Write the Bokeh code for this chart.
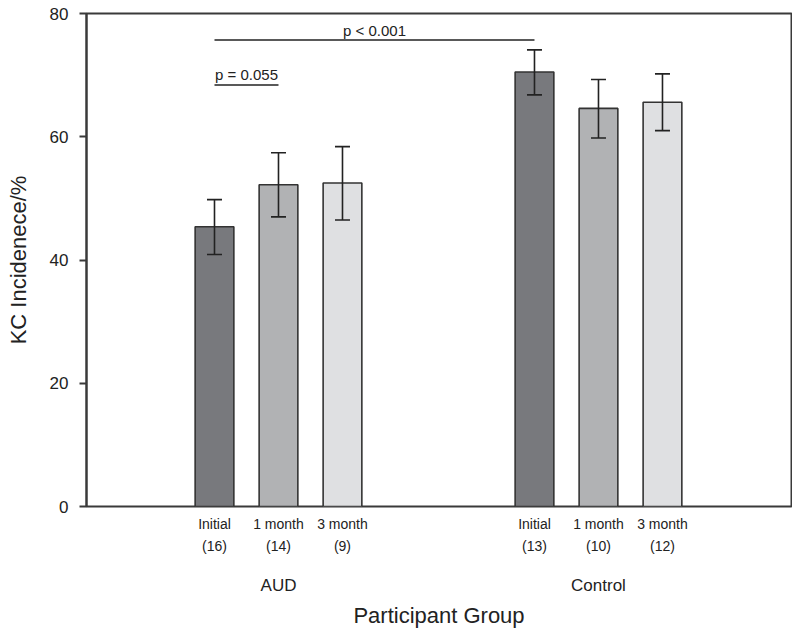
from bokeh.plotting import figure
from bokeh.models import Range1d, FixedTicker, LinearAxis, ColumnDataSource, Whisker, TeeHead
from bokeh.core.properties import value
from bokeh.embed import file_html
from bokeh.resources import INLINE

# ---- data ----
groups = ["AUD", "Control"]
timepoints = ["Initial", "1 month", "3 month"]
n_aud = [16, 14, 9]
n_ctrl = [13, 10, 12]
mean_aud = [45.4, 52.2, 52.5]
mean_ctrl = [70.5, 64.6, 65.6]
lo_aud = [40.9, 47.0, 46.5]
hi_aud = [49.8, 57.4, 58.4]
lo_ctrl = [66.8, 59.8, 61.0]
hi_ctrl = [74.1, 69.3, 70.2]
y_ticks = [0, 20, 40, 60, 80]
sig_labels = ["p < 0.001", "p = 0.055"]
sig_y = [75.7, 68.4]

bar_colors = ["#78797d", "#b1b2b4", "#dfe0e2"]
FONT = "Liberation Sans"
INK = "#3a3a3a"
TXT = "#222222"

# positions: group g, timepoint j
xs, tops, los, his, cols = [], [], [], [], []
for g, (means, lo, hi) in enumerate([(mean_aud, lo_aud, hi_aud), (mean_ctrl, lo_ctrl, hi_ctrl)]):
    for j in range(3):
        xs.append(2 + 5 * g + j)
        tops.append(means[j])
        los.append(lo[j])
        his.append(hi[j])
        cols.append(bar_colors[j])

src = ColumnDataSource(dict(x=xs, top=tops, lo=los, hi=his, color=cols))

p = figure(width=792, height=630, output_backend="svg", toolbar_location=None,
           x_range=Range1d(0, 11.016), y_range=Range1d(0, 80),
           x_axis_location=None,
           min_border_left=86, min_border_top=13, min_border_right=1, min_border_bottom=124)
p.grid.visible = False
p.outline_line_color = INK
p.outline_line_width = 2
p.outline_line_alpha = 1
p.background_fill_color = "white"

p.vbar(x="x", top="top", bottom=0, width=0.605, source=src, fill_color="color",
       line_color="#333333", line_width=1.6)

w = Whisker(source=src, base="x", lower="lo", upper="hi", line_color=TXT, line_width=1.6,
            upper_head=TeeHead(size=15, line_color=TXT, line_width=1.6),
            lower_head=TeeHead(size=15, line_color=TXT, line_width=1.6),
            level="overlay")
p.add_layout(w)

# significance brackets
p.segment(x0=[2, 2], y0=sig_y, x1=[7, 3], y1=sig_y, line_color=TXT, line_width=1.6)
p.text(x=[4.5, 2.5], y=[sig_y[0] + 1.6, sig_y[1] + 1.7], text=sig_labels,
       text_font=value(FONT), text_font_size="15px", text_align="center",
       text_baseline="middle", text_color=TXT)

# y axis
ya = p.yaxis[0]
ya.ticker = FixedTicker(ticks=y_ticks)
ya.minor_tick_line_color = None
ya.major_tick_out = 7
ya.major_tick_in = 0
ya.major_tick_line_color = INK
ya.major_tick_line_width = 2
ya.axis_line_color = INK
ya.axis_line_width = 2
ya.major_label_text_font = FONT
ya.major_label_text_font_size = "17px"
ya.major_label_text_color = TXT
ya.major_label_standoff = 11
ya.axis_label = "KC Incidenece/%"
ya.axis_label_text_font = FONT
ya.axis_label_text_font_size = "22px"
ya.axis_label_text_font_style = "normal"
ya.axis_label_text_color = TXT
ya.axis_label_standoff = 16

def make_axis(ticks, labels, size, standoff):
    ax = LinearAxis(ticker=FixedTicker(ticks=ticks),
                    major_label_overrides={t: l for t, l in zip(ticks, labels)})
    ax.axis_line_color = None
    ax.major_tick_line_color = None
    ax.minor_tick_line_color = None
    ax.major_tick_out = 0
    ax.major_tick_in = 0
    ax.major_label_standoff = standoff
    ax.major_label_text_font = FONT
    ax.major_label_text_font_size = size
    ax.major_label_text_color = TXT
    return ax

ax1 = make_axis(xs, timepoints * 2, "14px", 9)
ax2 = make_axis(xs, ["(%d)" % n for n in n_aud + n_ctrl], "14px", 3)
ax3 = make_axis([3, 8], groups, "17px", 19)
ax3.axis_label = "Participant Group"
ax3.axis_label_text_font = FONT
ax3.axis_label_text_font_size = "22px"
ax3.axis_label_text_font_style = "normal"
ax3.axis_label_text_color = TXT
ax3.axis_label_standoff = 5

p.add_layout(ax1, "below")
p.add_layout(ax2, "below")
p.add_layout(ax3, "below")

open("out.html", "w").write(file_html(p, INLINE))
